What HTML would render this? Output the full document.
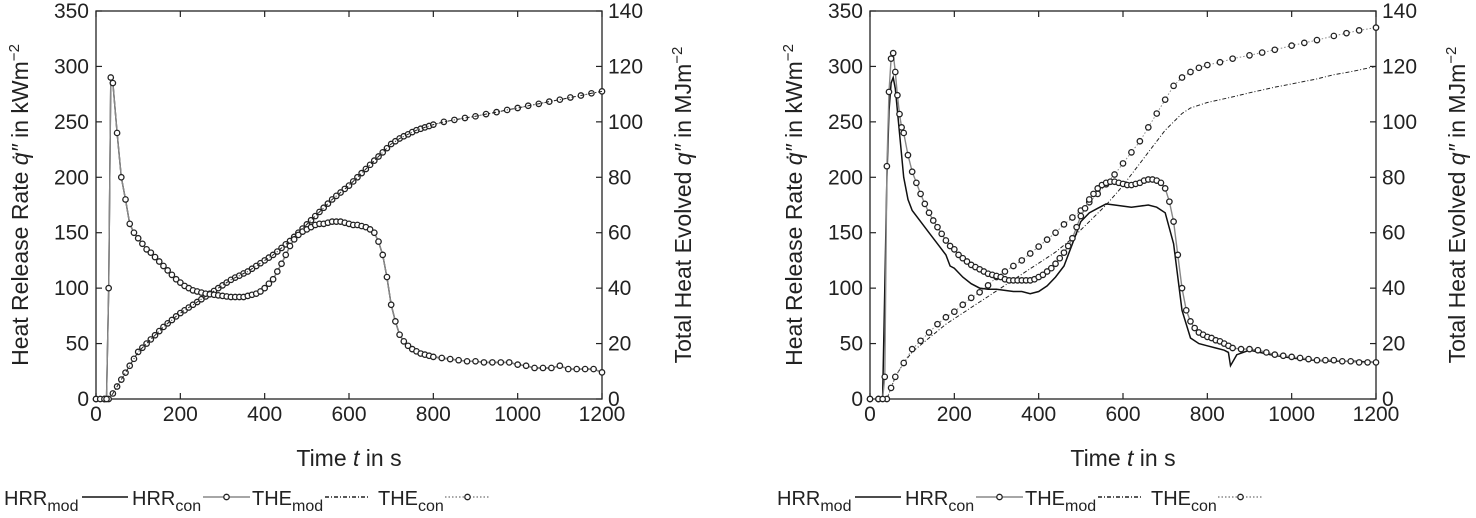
<!DOCTYPE html>
<html><head><meta charset="utf-8"><style>
html,body{margin:0;padding:0;background:#fff;}
svg{display:block;font-family:"Liberation Sans",Arial,sans-serif;}
</style></head><body>
<svg id="svg" width="1476" height="518" viewBox="0 0 1476 518" xmlns="http://www.w3.org/2000/svg"></svg>
<script>
// ---- Left chart data ----
const tL_hrr = [0,10,20,25,30,35,40,50,60,70,80,90,100,110,120,130,140,150,160,170,180,190,200,210,220,230,240,250,260,270,280,290,300,310,320,330,340,350,360,370,380,390,400,410,420,430,440,450,460,470,480,490,500,510,520,530,540,550,560,570,580,590,600,610,620,630,640,650,660,670,680,690,700,710,720,730,740,750,760,770,780,790,800,820,840,860,880,900,920,940,960,980,1000,1020,1040,1060,1080,1100,1120,1140,1160,1180,1200];
const L_hrr = [0,0,0,0,100,290,285,240,200,180,158,150,145,140,135,132,128,124,120,116,112,108,105,102,100,98,97,96,95,94.5,94,93.5,93,92.5,92,92,92,92,93,94,95,97,100,104,108,115,122,130,138,144,148,151,153,155,157,158,158,159,160,160,160,159,158,157,157,156,155,153,150,142,130,110,85,70,58,52,48,45,43,41,40,39,38,37,36,35,34,34,33,33,33,33,31,30,28,28,28,30,27,27,27,27,24];
const tL_the = [0,20,30,40,50,60,70,80,90,100,110,120,130,140,150,160,170,180,190,200,210,220,230,240,250,260,270,280,290,300,310,320,330,340,350,360,370,380,390,400,410,420,430,440,450,460,470,480,490,500,510,520,530,540,550,560,570,580,590,600,610,620,630,640,650,660,670,680,690,700,710,720,730,740,750,760,770,780,790,800,825,850,875,900,925,950,975,1000,1025,1050,1075,1100,1125,1150,1175,1200];
const L_the = [0,0,0,2,4.5,7,9.5,12,14.5,17,18.5,20,21.5,23,24.5,26,27.3,28.5,29.8,31,32,33,34,35,36,37,38,39,40,41,42,43,43.8,44.5,45.3,46,47,48,49,50,51,52,53.2,54.5,55.8,57,58.5,60,61.5,63,64.5,66,67.5,69,70.5,72,73.3,74.5,75.8,77,78.5,80,81.5,83,84.5,86,87.5,89,90.5,92,93,94,94.8,95.5,96.3,97,97.5,98,98.5,99,100,100.7,101.4,102,102.8,103.5,104.3,105,105.8,106.5,107.3,108,108.8,109.5,110.3,111];
// ---- Right chart data ----
const tR_con = [0,20,30,35,40,45,50,55,60,65,70,75,80,90,100,110,120,130,140,150,160,170,180,190,200,210,220,230,240,250,260,270,280,290,300,310,320,330,340,350,360,370,380,390,400,410,420,430,440,450,460,470,480,490,500,510,520,530,540,550,560,570,580,590,600,610,620,630,640,650,660,670,680,690,700,710,720,730,740,750,760,770,780,790,800,810,820,830,840,850,860,880,900,920,940,960,980,1000,1020,1040,1060,1080,1100,1120,1140,1160,1180,1200];
const R_con = [0,0,0,20,210,277,307,312,295,274,257,245,240,220,205,195,185,176,168,161,155,149,143,138,135,130,127,124,121,119,117,115,113,112,111,110,108,107,107,107,107,107,107,108,110,112,115,118,122,127,132,138,145,155,165,172,180,185,190,193,195,196,196,195,194,193,193,194,195,197,198,198,197,195,190,178,160,130,100,80,70,64,60,58,56,55,53,52,50,48,46,45,45,44,42,40,39,38,37,36,35,35,35,34,34,33,33,33];
const tR_mod = [0,30,35,40,45,50,55,60,70,80,90,100,120,140,160,180,190,200,220,240,260,280,300,320,340,360,380,400,420,440,460,480,500,520,540,560,580,600,620,640,660,680,700,720,740,760,780,800,820,840,850,855,870,900,950,1000,1050,1100,1150,1200];
const R_mod = [0,0,100,200,260,285,290,280,240,200,180,170,160,150,140,130,120,118,110,104,100,99,99,98,97,97,95,97,102,110,120,140,160,168,172,176,175,174,173,174,175,173,168,140,80,55,50,48,46,44,42,30,40,44,40,37,35,34,34,33];
const tR_the = [0,20,40,50,60,80,100,120,140,160,180,200,220,240,260,280,300,320,340,360,380,400,420,440,460,480,500,520,540,560,580,600,620,640,660,680,700,720,740,760,780,800,830,860,900,930,960,1000,1030,1060,1100,1130,1160,1200];
const R_thecon = [0,0,0,4,8,13,18,21,24,27,29.5,31.5,34,36.5,38.5,41,44,46,48,50,52.5,55,57.5,60,63,65.5,68,71,74,77.5,81,85,89,93,98,103,108,113,116,118,119.5,120.5,121.5,122.8,124,125,126,127.5,128.5,129.5,131,132,133,134];
const R_themod = [0,0,0,4,8,13,17,19.5,22,24.5,27,29,31,33,35,37,39,41,43,45,47,49,51,53,55.5,58,61,64,67,70,73.5,77,81,85,89,93,97,100,103,105,106,107,108,109,110.5,111.5,112.5,113.7,114.6,115.5,117,117.8,118.7,120];
const xTicks=[0,200,400,600,800,1000,1200];
const yTicksL=[0,50,100,150,200,250,300,350];
const yTicksR=[0,20,40,60,80,100,120,140];

const NS="http://www.w3.org/2000/svg";
const svg=document.getElementById('svg');
function mk(tag,attrs,parent){const e=document.createElementNS(NS,tag);for(const k in attrs)e.setAttribute(k,attrs[k]);(parent||svg).appendChild(e);return e;}

function chart(x0,x1,name,series){
  const y0=399,y1=11;
  const g=mk('g',{});
  
  
  const X=t=>x0+(t/1200)*(x1-x0);
  const YL=v=>y0-(v/350)*(y0-y1);
  const YR=v=>y0-(v/140)*(y0-y1);
  const fr=mk('rect',{x:x0,y:y1,width:x1-x0,height:y0-y1,fill:'none',stroke:'#222','stroke-width':1.3},g);
  
  
  xTicks.forEach(t=>{
    mk('line',{x1:X(t),x2:X(t),y1:y0,y2:y0-6,stroke:'#222','stroke-width':1.2},g);
    mk('line',{x1:X(t),x2:X(t),y1:y1,y2:y1+6,stroke:'#222','stroke-width':1.2},g);
    const tx=mk('text',{x:X(t),y:y0+22,'text-anchor':'middle','font-size':21,fill:'#222'},g);
    tx.textContent=t;
    
    
  });
  yTicksL.forEach(v=>{
    mk('line',{x1:x0,x2:x0+6,y1:YL(v),y2:YL(v),stroke:'#222','stroke-width':1.2},g);
    const tx=mk('text',{x:x0-7,y:YL(v)+7,'text-anchor':'end','font-size':21,fill:'#222'},g);
    tx.textContent=v;
    
    
  });
  yTicksR.forEach(v=>{
    mk('line',{x1:x1,x2:x1-6,y1:YR(v),y2:YR(v),stroke:'#222','stroke-width':1.2},g);
    const tx=mk('text',{x:x1+6,y:YR(v)+7,'text-anchor':'start','font-size':21,fill:'#222'},g);
    tx.textContent=v;
    
    
  });
  series.forEach(s=>{
    const Y=s.axis==='L'?YL:YR;
    const pts=s.t.map((t,i)=>X(t).toFixed(1)+','+Y(s.v[i]).toFixed(1)).join(' ');
    const pl=mk('polyline',{points:pts,fill:'none',stroke:s.color,'stroke-width':s.w,'stroke-dasharray':s.dash||'none'},g);
    
    
    if(s.marker){
      s.t.forEach((t,i)=>{
        const c=mk('circle',{cx:X(t),cy:Y(s.v[i]),r:2.7,fill:'#fff',stroke:'#222','stroke-width':1.3},g);
        
        
      });
    }
  });
  const xt=mk('text',{x:(x0+x1)/2,y:466,'text-anchor':'middle','font-size':23,fill:'#222'},g);
  xt.innerHTML='Time <tspan font-style="italic">t</tspan> in s';
  
  
  const ylt=mk('text',{transform:`translate(${x0-68},205) rotate(-90)`,'text-anchor':'middle','font-size':23,fill:'#222'},g);
  ylt.innerHTML='Heat Release Rate <tspan font-style="italic">q̇″</tspan> in kWm<tspan dy="-9" font-size="15">−2</tspan>';
  
  
  const yrt=mk('text',{transform:`translate(${x1+89},205) rotate(-90)`,'text-anchor':'middle','font-size':23,fill:'#222'},g);
  yrt.innerHTML='Total Heat Evolved <tspan font-style="italic">q″</tspan> in MJm<tspan dy="-9" font-size="15">−2</tspan>';
  
  
}
function legend(ox){
  const g=mk('g',{});
  
  
  const items=[['HRR','mod',4,82,128,'#111','',false],['HRR','con',132,203,250,'#888','',true],['THE','mod',252,325,370,'#222','4,2,1,2',false],['THE','con',378,445,490,'#888','1.5,2',true]];
  items.forEach(it=>{
    const tx=mk('text',{x:ox+it[2],y:505,'font-size':20,fill:'#222'},g);
    tx.innerHTML=it[0]+'<tspan dy="6" font-size="16">'+it[1]+'</tspan>';
    
    
    mk('line',{x1:ox+it[3],x2:ox+it[4],y1:497,y2:497,stroke:it[5],'stroke-width':it[5]==='#111'?1.6:1.4,'stroke-dasharray':it[6]||'none'},g);
    if(it[7])mk('circle',{cx:ox+(it[3]+it[4])/2,cy:497,r:2.7,fill:'#fff',stroke:'#222','stroke-width':1.3},g);
  });
}
chart(96,602,'left-chart',[
  {name:'the-con-left',t:tL_the,v:L_the,axis:'R',color:'#888',w:1,dash:'1.5,2',marker:true},
  {name:'the-mod-left',t:tL_the,v:L_the,axis:'R',color:'#222',w:1,dash:'4,2,1,2'},
  {name:'hrr-mod-left',t:tL_hrr,v:L_hrr,axis:'L',color:'#111',w:1.4},
  {name:'hrr-con-left',t:tL_hrr,v:L_hrr,axis:'L',color:'#888',w:1.4,marker:true}
]);
chart(870,1376,'right-chart',[
  {name:'the-mod-right',t:tR_the,v:R_themod,axis:'R',color:'#222',w:1,dash:'4,2,1,2'},
  {name:'the-con-right',t:tR_the,v:R_thecon,axis:'R',color:'#888',w:1,dash:'1.5,2',marker:true},
  {name:'hrr-mod-right',t:tR_mod,v:R_mod,axis:'L',color:'#111',w:1.5},
  {name:'hrr-con-right',t:tR_con,v:R_con,axis:'L',color:'#888',w:1.4,marker:true}
]);
legend(0);
legend(773);
</script>
</body></html>
